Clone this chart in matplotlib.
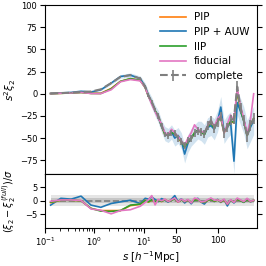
import numpy as np
import matplotlib
matplotlib.use("Agg")
import matplotlib.pyplot as plt

# separation bins: log-spaced below 10, linear above
s = [0.13, 0.21, 0.34, 0.54, 0.86, 1.36, 2.2, 3.4, 5.4, 8.6,
     12, 16, 20, 24, 28, 32, 36, 40, 44, 48, 52, 56, 60, 64, 68, 72, 76,
     80, 84, 88, 92, 96, 100, 104, 108, 112, 116, 120, 124, 128, 132, 136, 140, 144]

# s^2 xi_2
complete = [0.3, 0.8, 1.2, 2.0, 2.5, 5, 12, 19, 21, 17,
            8, -2, -9, -18, -25, -36, -46, -47, -44, -44, -50, -54, -58, -53, -50, -44, -42,
            -43, -45, -36, -30, -39, -32, -26, -44, -38, -30, -28, 8, -16, -30, -48, -36, -28]
complete_err = [0.2, 0.3, 0.3, 0.4, 0.5, 0.6, 0.8, 1.0, 1.2, 1.4,
                2, 2, 2.5, 2.5, 3, 3, 3, 3.5, 3.5, 3.5, 4, 4, 4, 4, 4, 4.5, 4.5,
                4.5, 4.5, 5, 5, 5, 5, 5, 5.5, 5.5, 5.5, 6, 6, 6, 6, 6.5, 6.5, 6.5]
pip = [0.2, 0.5, 0.9, 1.5, 0.5, 0.5, 6, 14, 17, 15,
       7, -3, -10, -19, -26, -37, -46, -47, -44, -46, -49, -55, -60, -54, -50, -44, -42,
       -43, -46, -37, -33, -39, -31, -27, -44, -37, -31, -33, 3, -18, -30, -47, -36, -28]
pip_auw = [0.3, 0.9, 1.5, 2.8, 2.0, 4.5, 12, 19.5, 21, 17,
           8, -2, -10, -19, -26, -37, -45, -47, -43, -50, -47, -53, -68, -56, -49, -45, -41,
           -42, -46, -38, -36, -40, -31, -15, -43, -37, -33, -76, -10, -20, -30, -46, -38, -30]
pip_auw_err = [0.3, 0.4, 0.5, 0.6, 0.8, 1.0, 1.5, 2, 2.5, 3,
               4, 5, 6, 6, 7, 7, 8, 8, 8, 9, 9, 9, 10, 10, 10, 10, 10,
               11, 11, 11, 11, 12, 12, 12, 13, 13, 13, 14, 14, 15, 15, 16, 16, 16]
iip = [0.2, 0.5, 0.9, 1.5, 0.4, 0.3, 5.5, 14, 17, 15,
       7, -3, -10, -19, -26, -36, -46, -47, -44, -45, -49, -54, -60, -54, -51, -44, -41,
       -43, -46, -37, -33, -39, -31, -27, -43, -37, -31, -32, 4, -18, -31, -47, -35, -28]
fiducial = [0.2, 0.6, 1.0, 1.6, 0.3, 0.2, 4.5, 13.5, 16, 14.5,
            7, -3, -12, -20, -28, -34, -44, -46, -40, -44, -48, -53, -58, -50, -44, -35, -40,
            -42, -44, -36, -30, -37, -28, -24, -44, -34, -24, -30, 6, -14, -28, -45, -30, 0]

# (xi_2 - xi_2^full)/sigma
res_pip = [-0.7, 0.2, 0.2, 0.0, -2.8, -3.6, -3.6, -3.6, -1.8, -1.3,
           0.2, -0.5, 0.3, -0.4, 0.2, -0.3, 0.5, -0.2, 0.3, 0.8, -0.5, 0.4, -0.3, 0.2, -0.6, 0.3, 0.5,
           -0.4, -0.6, 0.1, 0.6, -0.2, 0.3, -0.4, 0.2, -1.2, 0.2, -0.5, 0.4, 0.1, -0.4, 0.5, -0.3, 0.1]
res_pip_auw = [-1.6, 0.9, 0.6, 1.7, -1.6, -2.4, -1.0, -0.4, 0.2, -1.0,
               0.9, 0.6, 1.4, 0.5, -0.3, 0.8, 0.2, -0.5, 0.6, 1.9, -0.4, 0.7, -0.8, 0.3, -1.1, 0.4, 0.9,
               -0.5, -1.2, 0.2, 0.8, -0.3, 0.5, -0.6, 0.4, -1.9, 0.3, -0.8, 0.5, 0.2, -0.6, 0.7, -0.4, 0.0]
res_iip = [-0.5, 0.2, 0.2, 0.0, -2.8, -3.8, -3.9, -3.6, -1.6, -1.2,
           0.1, -0.4, 0.4, -0.3, 0.1, -0.2, 0.4, -0.3, 0.2, 0.7, -0.4, 0.3, -0.2, 0.3, -0.5, 0.2, 0.4,
           -0.3, -0.5, 0.2, 0.5, -0.1, 0.2, -0.3, 0.3, -1.0, 0.1, -0.4, 0.5, 0.0, -0.5, 0.4, -0.2, 0.2]
res_fiducial = [-0.2, 0.3, 0.3, 0.1, -3.0, -3.5, -4.8, -3.6, -3.3, -2.0,
                -0.6, 0.4, 1.9, -1.5, 0.5, 0.0, 0.6, -0.3, 0.4, 1.0, -0.5, 0.6, -0.2, 0.5, -0.8, 1.0, 0.7,
                -0.4, -0.3, 0.4, 1.0, 0.2, 0.3, -0.2, 0.6, -1.2, 0.4, -0.6, 1.0, 0.3, -0.3, 0.9, -0.2, 0.2]

s = np.array(s)


# log below 10 Mpc/h, linear above
def fwd(x):
    x = np.asarray(x, dtype=float)
    return np.where(x <= 10, np.log10(np.maximum(x, 1e-10)), 1 + (x - 10) / 60.0)


def inv(y):
    y = np.asarray(y, dtype=float)
    return np.where(y <= 1, 10 ** np.minimum(y, 1), 10 + (y - 1) * 60.0)


fig = plt.figure(figsize=(2.66, 2.66), dpi=100)
gs = fig.add_gridspec(2, 1, height_ratios=[3.1, 1], hspace=0,
                      left=0.169, right=0.966, top=0.981, bottom=0.143)
ax = fig.add_subplot(gs[0])
axr = fig.add_subplot(gs[1], sharex=ax)

lo = np.array(pip_auw) - np.array(pip_auw_err)
hi = np.array(pip_auw) + np.array(pip_auw_err)
ax.fill_between(s, lo, hi, color="tab:blue", alpha=0.2, lw=0)
ax.plot(s, pip, color="tab:orange", lw=1.2, label="PIP")
ax.plot(s, pip_auw, color="tab:blue", lw=1.2, label="PIP + AUW")
ax.plot(s, iip, color="tab:green", lw=1.2, label="IIP")
ax.plot(s, fiducial, color="tab:pink", lw=1.2, label="fiducial")
ax.errorbar(s, complete, yerr=complete_err, fmt="--", color="tab:gray", lw=1.5,
            elinewidth=1.2, label="complete")

ax.set_xscale("function", functions=(fwd, inv))
ax.set_xlim(0.1, 148)
ax.set_ylim(-90, 100)
ax.set_yticks([-75, -50, -25, 0, 25, 50, 75, 100])
ax.set_ylabel(r"$s^2\xi_2$", fontsize=7.5, labelpad=1)
ax.tick_params(labelsize=6, right=True, labelbottom=False, pad=2)
ax.legend(loc="upper right", frameon=False, fontsize=7.5, handlelength=2.5,
          labelspacing=0.45, borderaxespad=0.3)

axr.fill_between(s, -2, 2, color="gray", alpha=0.2, lw=0)
axr.fill_between(s, -1, 1, color="gray", alpha=0.3, lw=0)
axr.plot(s, np.zeros(len(s)), "--", color="tab:gray", lw=1.2)
axr.plot(s, res_pip_auw, color="tab:blue", lw=1.2)
axr.plot(s, res_pip, color="tab:orange", lw=1.2)
axr.plot(s, res_iip, color="tab:green", lw=1.2)
axr.plot(s, res_fiducial, color="tab:pink", lw=1.2)
axr.set_ylim(-10, 10)
axr.set_yticks([-5, 0, 5])
axr.set_xticks([0.1, 1, 10, 50, 100])
axr.set_xticklabels([r"$10^{-1}$", r"$10^{0}$", r"$10^{1}$", "50", "100"])
axr.set_xticks([0.2, 0.3, 0.4, 0.5, 0.6, 0.7, 0.8, 0.9,
                2, 3, 4, 5, 6, 7, 8, 9], minor=True)
axr.set_xlim(0.1, 148)
axr.tick_params(labelsize=6, right=True, pad=2)
axr.set_xlabel(r"$s\ [h^{-1}\mathrm{Mpc}]$", fontsize=7.5, labelpad=1)
axr.set_ylabel(r"$(\xi_2 - \xi_2^{(full)})/\sigma$", fontsize=7, labelpad=1)
fig.align_ylabels([ax, axr])

fig.savefig("out.png", dpi=100)
